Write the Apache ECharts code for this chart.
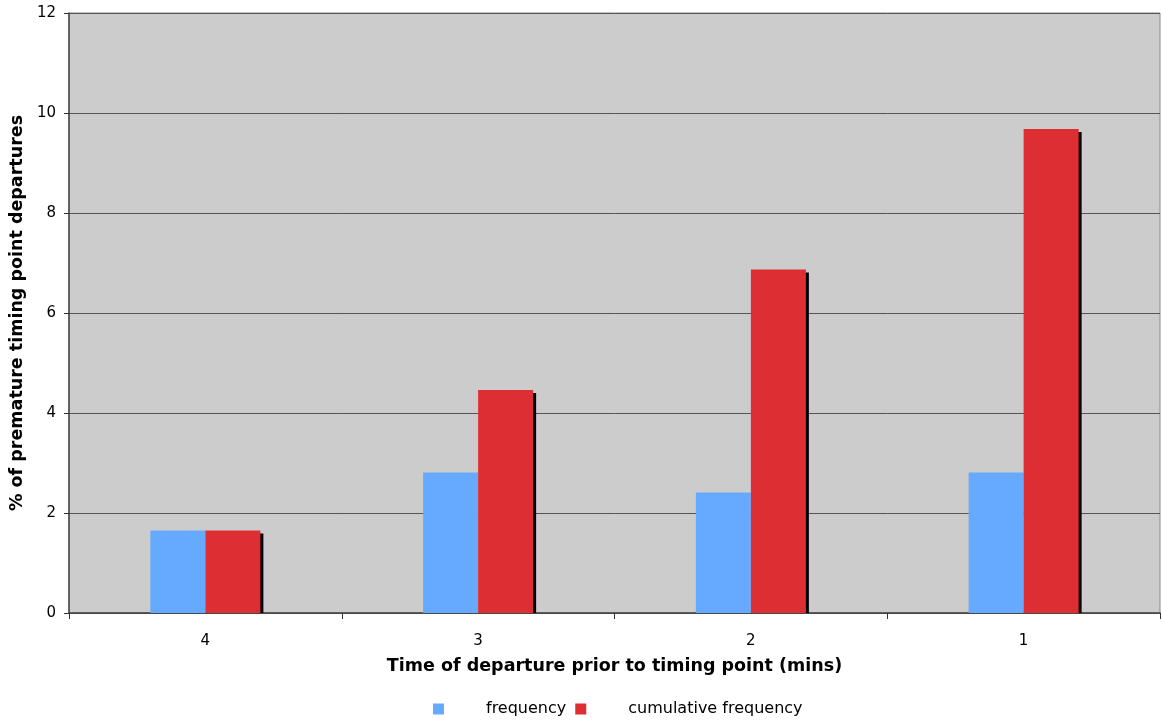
<!DOCTYPE html>
<html><head><meta charset="utf-8">
<script src="https://cdn.jsdelivr.net/npm/echarts@6/dist/echarts.min.js"></script>
<style>html,body{margin:0;padding:0;background:#fff}#c{width:1162px;height:724px}</style>
</head><body><div id="c"></div>
<script>
var categories = ['4', '3', '2', '1'];
var frequency = [1.65, 2.81, 2.41, 2.81];
var cumulative = [1.65, 4.46, 6.87, 9.68];
var yTicks = [0, 2, 4, 6, 8, 10, 12];

var BAR_W = 55;
var chart = echarts.init(document.getElementById('c'));
chart.setOption({
  animation: false,
  textStyle: { fontFamily: 'DejaVu Sans' },
  grid: { left: 69, right: 2, top: 13, bottom: 111, outerBoundsMode: 'none', containLabel: false,
          show: true, backgroundColor: '#cccccc', borderColor: '#888', borderWidth: 1 },
  legend: {
    bottom: 2, left: 428,
    itemWidth: 11, itemHeight: 11, itemGap: 9,
    icon: 'rect',
    textStyle: { fontSize: 16, color: '#000', fontFamily: 'DejaVu Sans', padding: [0, 0, 0, 37] },
    data: ['frequency', 'cumulative frequency']
  },
  xAxis: {
    type: 'category', data: categories,
    name: 'Time of departure prior to timing point (mins)',
    nameLocation: 'middle', nameGap: 44,
    nameTextStyle: { fontSize: 17.5, fontWeight: 'bold', color: '#000' },
    axisLine: { lineStyle: { color: '#444', width: 1.5 } },
    axisTick: { show: true, alignWithLabel: false, length: 6, lineStyle: { color: '#333' } },
    axisLabel: { fontSize: 15, color: '#000', margin: 21 }
  },
  yAxis: {
    type: 'value', min: yTicks[0], max: yTicks[yTicks.length - 1], interval: 2,
    name: '% of premature timing point departures',
    nameLocation: 'middle', nameGap: 42,
    nameTextStyle: { fontSize: 17.5, fontWeight: 'bold', color: '#000' },
    axisLine: { show: true, lineStyle: { color: '#444', width: 1.5 } },
    axisTick: { show: true, length: 5, lineStyle: { color: '#333' } },
    axisLabel: { fontSize: 15, color: '#000', margin: 13 },
    splitLine: { show: true, lineStyle: { color: '#555', width: 1 } }
  },
  series: [
    { name: 'cumulative shadow', type: 'custom', data: cumulative, z: 1, silent: true,
      renderItem: function (params, api) {
        var top = api.coord([api.value(0), api.value(1)]);
        var base = api.coord([api.value(0), 0]);
        return { type: 'rect', shape: { x: top[0] + 3, y: top[1] + 3, width: BAR_W, height: base[1] - top[1] - 3 },
                 style: { fill: '#000' } };
      },
      encode: { x: 0, y: 1 }
    },
    { name: 'frequency', type: 'bar', data: frequency, barWidth: BAR_W, barGap: '0%', z: 2,
      itemStyle: { color: '#66aaff' } },
    { name: 'cumulative frequency', type: 'bar', data: cumulative, barWidth: BAR_W, barGap: '0%', z: 2,
      itemStyle: { color: '#dd2e33' } }
  ]
});
</script></body></html>
